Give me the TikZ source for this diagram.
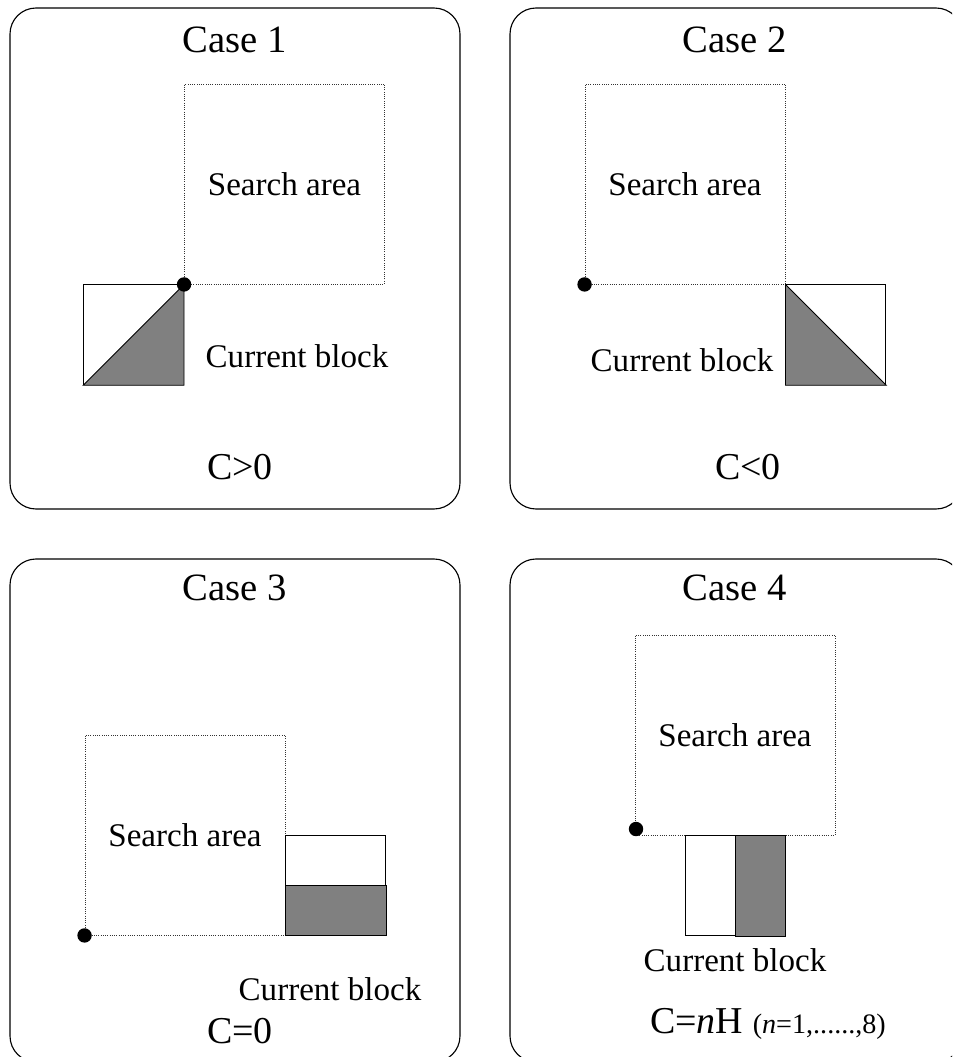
\documentclass[tikz,border=0pt]{standalone}
\usepackage{fontspec}
\setmainfont{Liberation Serif}
\usetikzlibrary{positioning}

\tikzset{
  panel/.style={draw, line width=0.8pt, rounded corners=0.65cm},
  search/.style={draw=black!80, densely dotted, line width=0.6pt,
    minimum width=5cm, minimum height=5cm, font=\fontsize{23.5}{24}\selectfont},
  block/.style={draw, line width=0.6pt, minimum width=2.5cm,
    minimum height=2.5cm, inner sep=0pt},
  shade/.style={fill=gray, draw=black, line width=0.6pt},
  txt/.style={font=\fontsize{23.5}{24}\selectfont},
  title/.style={font=\fontsize{27.5}{28}\selectfont},
  cond/.style={font=\fontsize{27}{28}\selectfont}
}

\begin{document}
\begin{tikzpicture}[x=0.025cm, y=-0.025cm]
  \useasboundingbox (0,0) rectangle (952,1057);
  \clip (0,0) rectangle (952,1057);

  % the four frames
  \draw[panel] (10,8) rectangle (460,509);
  \draw[panel] (510,8) rectangle (962,509);
  \draw[panel] (10,559) rectangle (460,1062);
  \draw[panel] (510,559) rectangle (962,1062);

  % Case 1
  \node[title] (t1) at (235,40) {Case 1};
  \node[search] (sa1) at (284.5,184) {Search area};
  \node[block, anchor=north east] (b1) at (sa1.south west) {};
  \filldraw[shade] (b1.south west) -- (b1.south east) -- (b1.north east) -- cycle;
  \fill (sa1.south west) circle (0.18cm);
  \node[txt] (cb1) at (297,356) {Current block};
  \node[cond] (c1) at (240,467) {C>0};

  % Case 2
  \node[title] (t2) at (735,40) {Case 2};
  \node[search] (sa2) at (685,184) {Search area};
  \node[block, anchor=north west] (b2) at (sa2.south east) {};
  \filldraw[shade] (b2.north west) -- (b2.south west) -- (b2.south east) -- cycle;
  \fill (sa2.south west) circle (0.18cm);
  \node[txt] (cb2) at (682,360) {Current block};
  \node[cond] (c2) at (748,467) {C<0};

  % Case 3
  \node[title] (t3) at (235,588) {Case 3};
  \node[search] (sa3) at (185,835) {Search area};
  \node[block, anchor=south west] (b3) at (sa3.south east) {};
  \filldraw[shade] (b3.west) rectangle (b3.south east);
  \fill (sa3.south west) circle (0.18cm);
  \node[txt] (cb3) at (330,989) {Current block};
  \node[cond] (c3) at (240,1031) {C=0};

  % Case 4
  \node[title] (t4) at (735,588) {Case 4};
  \node[search] (sa4) at (735,735) {Search area};
  \node[block, anchor=north] (b4) at (sa4.south) {};
  \filldraw[shade] (b4.south) rectangle (b4.north east);
  \fill (636,829) circle (0.18cm);
  \node[txt] (cb4) at (735,960) {Current block};
  \node[cond] (c4) at (768,1024) {C=\textit{n}H {\fontsize{20}{21}\selectfont(\textit{n}=1,......,8)}};
\end{tikzpicture}
\end{document}
